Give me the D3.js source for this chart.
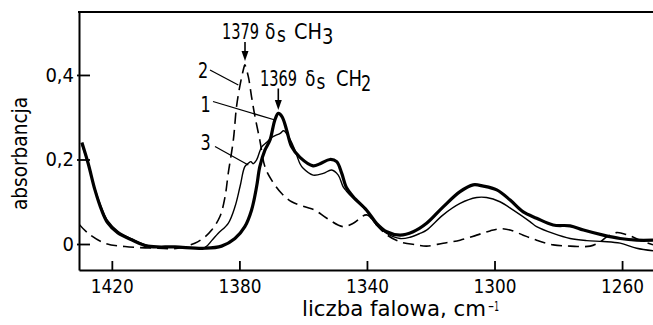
<!DOCTYPE html>
<html>
<head>
<meta charset="utf-8">
<script src="https://cdn.jsdelivr.net/npm/d3@7"></script>
<style>
  html, body { margin: 0; padding: 0; background: #fff; }
  svg { display: block; }
  text { font-family: "DejaVu Sans Condensed", "DejaVu Sans", sans-serif; fill: #000; }
</style>
</head>
<body>
<svg id="chart" width="653" height="325"></svg>
<script>
// ---- data ----
const xTicks = [1420, 1380, 1340, 1300, 1260];
const yTicks = [0, 0.2, 0.4];
const yTickLabels = ["0", "0,2", "0,4"];

// curve 1 (thick solid)
const wn1 = [1429.4, 1427.4, 1425.3, 1423.2, 1421.3, 1418.1, 1413.8, 1408.7, 1400.2, 1390.8, 1385.6, 1381.4, 1378.3, 1376.2, 1374.6, 1373.6, 1372.0, 1370.4, 1368.9, 1367.8, 1366.6, 1365.2, 1363.6, 1361.0, 1356.9, 1354.7, 1351.6, 1349.5, 1347.9, 1346.4, 1344.3, 1340.1, 1337.0, 1333.8, 1329.6, 1325.5, 1321.3, 1316.1, 1310.8, 1306.7, 1303.5, 1299.3, 1295.1, 1291.0, 1286.8, 1281.6, 1276.3, 1272.1, 1265.9, 1260.6, 1255.4, 1250.3];
const abs1 = [0.240, 0.190, 0.128, 0.080, 0.050, 0.026, 0.010, -0.005, -0.007, -0.010, -0.005, 0.013, 0.041, 0.080, 0.136, 0.183, 0.222, 0.246, 0.293, 0.309, 0.301, 0.270, 0.230, 0.205, 0.185, 0.190, 0.200, 0.195, 0.167, 0.133, 0.112, 0.080, 0.049, 0.029, 0.021, 0.029, 0.049, 0.088, 0.124, 0.140, 0.137, 0.128, 0.104, 0.076, 0.061, 0.045, 0.043, 0.033, 0.021, 0.013, 0.009, 0.009];

// curve 2 (dashed)
const wn2 = [1430.3, 1427.4, 1422.2, 1415.9, 1405.6, 1399.3, 1394.0, 1390.8, 1388.7, 1386.1, 1384.5, 1383.5, 1381.9, 1380.9, 1379.8, 1378.5, 1378.3, 1377.2, 1376.2, 1375.1, 1373.6, 1372.0, 1369.9, 1366.8, 1363.6, 1359.5, 1356.3, 1352.6, 1347.5, 1344.3, 1340.1, 1337.0, 1333.8, 1329.6, 1324.4, 1321.3, 1316.1, 1310.8, 1305.6, 1301.4, 1298.3, 1295.1, 1291.0, 1286.8, 1281.6, 1276.3, 1270.0, 1266.9, 1264.8, 1261.7, 1258.5, 1254.4, 1250.3];
const abs2 = [0.047, 0.025, 0.002, -0.006, -0.010, -0.010, 0.002, 0.017, 0.033, 0.065, 0.112, 0.167, 0.246, 0.325, 0.376, 0.420, 0.424, 0.396, 0.349, 0.301, 0.246, 0.183, 0.151, 0.120, 0.100, 0.088, 0.080, 0.061, 0.041, 0.049, 0.069, 0.045, 0.022, 0.005, -0.002, -0.005, 0.002, 0.009, 0.021, 0.031, 0.036, 0.033, 0.021, 0.009, -0.002, -0.005, -0.005, 0.005, 0.017, 0.027, 0.022, 0.009, -0.002];

// curve 3 (thin solid)
const wn3 = [1429.4, 1427.4, 1425.3, 1423.2, 1421.3, 1418.1, 1413.8, 1408.7, 1400.2, 1390.8, 1388.7, 1386.7, 1383.5, 1381.4, 1379.8, 1378.3, 1377.2, 1376.4, 1375.7, 1374.6, 1373.0, 1371.5, 1369.9, 1367.2, 1366.1, 1364.0, 1362.6, 1361.0, 1360.0, 1356.9, 1353.7, 1351.1, 1349.0, 1347.5, 1346.4, 1344.3, 1340.1, 1337.0, 1333.8, 1329.6, 1326.5, 1323.4, 1321.3, 1316.1, 1310.8, 1305.6, 1302.5, 1298.3, 1294.1, 1288.9, 1286.8, 1281.6, 1276.3, 1271.1, 1265.9, 1260.6, 1255.4, 1250.3];
const abs3 = [0.235, 0.190, 0.130, 0.085, 0.055, 0.030, 0.012, -0.004, -0.007, -0.008, 0.008, 0.025, 0.049, 0.088, 0.136, 0.183, 0.191, 0.195, 0.190, 0.199, 0.230, 0.240, 0.252, 0.262, 0.268, 0.246, 0.222, 0.190, 0.179, 0.163, 0.167, 0.175, 0.163, 0.136, 0.125, 0.108, 0.078, 0.045, 0.025, 0.013, 0.016, 0.025, 0.033, 0.069, 0.096, 0.110, 0.110, 0.100, 0.080, 0.053, 0.041, 0.025, 0.013, 0.008, 0.006, 0.002, -0.010, -0.016];

// ---- layout ----
const svg = d3.select("#chart");
const x = d3.scaleLinear().domain([1430.3, 1250.3]).range([79, 653]);
const y = d3.scaleLinear().domain([-0.0615, 0.549]).range([270, 12]);

const line = d3.line()
  .x(d => x(d[0])).y(d => y(d[1]))
  .curve(d3.curveCatmullRom.alpha(0.5));

const zip = (a, b) => a.map((v, i) => [v, b[i]]);

svg.append("defs").append("clipPath").attr("id", "clip")
  .append("rect").attr("x", 79).attr("y", 12).attr("width", 574).attr("height", 258);

const g = svg.append("g").attr("clip-path", "url(#clip)");
g.append("path").datum(zip(wn2, abs2)).attr("d", line)
  .attr("fill", "none").attr("stroke", "#000").attr("stroke-width", 1.6).attr("stroke-dasharray", "11,6");
g.append("path").datum(zip(wn3, abs3)).attr("d", line)
  .attr("fill", "none").attr("stroke", "#000").attr("stroke-width", 1.4);
g.append("path").datum(zip(wn1, abs1)).attr("d", line)
  .attr("fill", "none").attr("stroke", "#000").attr("stroke-width", 3.2).attr("stroke-linejoin", "round");

// axes
const xAxis = d3.axisBottom(x).tickValues(xTicks).tickSizeInner(-9).tickSizeOuter(0).tickPadding(9).tickFormat(d3.format("d"));
const gx = svg.append("g").attr("transform", "translate(0,270)").call(xAxis);
const yAxis = d3.axisLeft(y).tickValues(yTicks).tickSizeInner(-11).tickSizeOuter(0).tickPadding(5).tickFormat((d, i) => yTickLabels[i]);
const gy = svg.append("g").attr("transform", "translate(79,0)").call(yAxis);

[gx, gy].forEach(a => {
  a.select(".domain").attr("stroke", "#000").attr("stroke-width", 2);
  a.selectAll(".tick line").attr("stroke", "#000").attr("stroke-width", 1.8);
  a.selectAll(".tick text").attr("font-size", 20).attr("font-family", null).attr("fill", "#000");
});
gx.selectAll(".tick text").attr("textLength", 43).attr("lengthAdjust", "spacingAndGlyphs");
gy.selectAll(".tick line").attr("x1", -2);

// top frame line
svg.append("line").attr("x1", 78).attr("x2", 653).attr("y1", 12).attr("y2", 12)
  .attr("stroke", "#000").attr("stroke-width", 2);

// axis titles
const xt = svg.append("text").attr("font-size", 21);
xt.append("tspan").attr("x", 302).attr("y", 316)
  .attr("textLength", 184).attr("lengthAdjust", "spacingAndGlyphs").text("liczba falowa, cm");
xt.append("tspan").attr("x", 488).attr("y", 311).attr("font-size", 14)
  .attr("textLength", 11).attr("lengthAdjust", "spacingAndGlyphs").text("−1");

svg.append("text").attr("transform", "translate(27,210) rotate(-90)")
  .attr("font-size", 21).attr("textLength", 113).attr("lengthAdjust", "spacingAndGlyphs").text("absorbancja");

// peak annotations: pieces [text, x, baseline y, horizontal scale]
function annot(parts) {
  const a = svg.append("g");
  parts.forEach(p => a.append("text")
    .attr("transform", `translate(${p[1]},${p[2]}) scale(${p[3]},1)`)
    .attr("font-size", 21).text(p[0]));
}
annot([["1379", 222, 38.5, 0.77], ["δ", 265, 38.5, 0.9], ["s", 277, 42, 0.9], ["CH", 294, 38.5, 1.02], ["3", 322, 43.5, 0.95]]);
annot([["1369", 260, 85.5, 0.77], ["δ", 305, 85.5, 0.9], ["s", 316.5, 89, 0.9], ["CH", 336, 86, 0.95], ["2", 361, 91, 0.85]]);

function arrow(xp, y0, y1) {
  svg.append("line").attr("x1", xp).attr("x2", xp).attr("y1", y0).attr("y2", y1 - 8)
    .attr("stroke", "#000").attr("stroke-width", 1.6);
  svg.append("path").attr("d", `M${xp - 3.5},${y1 - 10} L${xp + 3.5},${y1 - 10} L${xp},${y1} Z`).attr("fill", "#000");
}
arrow(245, 42, 61);
arrow(278.3, 88.5, 110);

// curve labels with leader lines
function label(txt, tx, ty, x0, y0, x1, y1) {
  svg.append("text").attr("transform", `translate(${tx},${ty}) scale(0.85,1)`).attr("font-size", 21).text(txt);
  svg.append("line").attr("x1", x0).attr("y1", y0).attr("x2", x1).attr("y2", y1)
    .attr("stroke", "#000").attr("stroke-width", 1.3);
}
label("2", 198, 77.5, 210, 70, 238.3, 85);
label("1", 200.5, 111.5, 213, 101.5, 275, 120);
label("3", 200.5, 150, 215, 146.5, 248.3, 165);
</script>
</body>
</html>
